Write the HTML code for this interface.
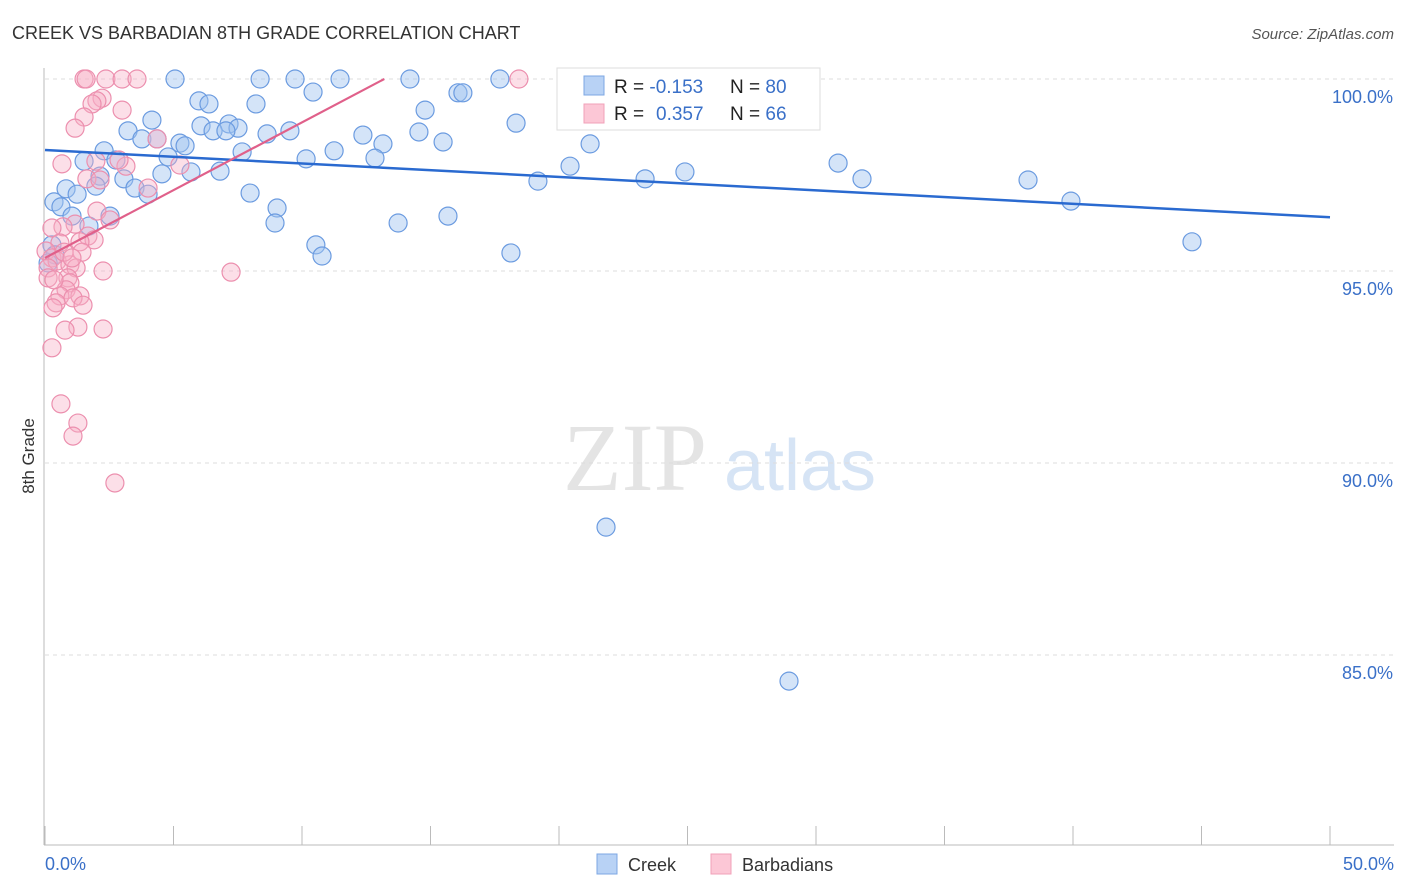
<!DOCTYPE html>
<html><head><meta charset="utf-8"><style>
body{margin:0;background:#fff;font-family:"Liberation Sans",sans-serif}
svg{display:block}
</style></head><body>
<svg width="1406" height="892" viewBox="0 0 1406 892" xmlns="http://www.w3.org/2000/svg">
<text x="12" y="39" font-size="18" fill="#333">CREEK VS BARBADIAN 8TH GRADE CORRELATION CHART</text>
<text x="1394" y="39" font-size="15" fill="#555" text-anchor="end" font-style="italic">Source: ZipAtlas.com</text>
<g>
<text x="635" y="490" font-size="96" font-family="Liberation Serif,serif" fill="#e4e4e4" text-anchor="middle">ZIP</text>
<text x="800" y="490" font-size="72" fill="#d6e4f5" text-anchor="middle">atlas</text>
</g>
<g id="grid"></g>
<g id="axes"></g>
<g id="pts"></g>
<g id="trend"></g>
<text transform="translate(34,456) rotate(-90)" font-size="17" fill="#333" text-anchor="middle">8th Grade</text>
<g>
<rect x="557" y="68" width="263" height="62" fill="#fff" stroke="#ddd"/>
<rect x="584" y="76" width="20" height="19" fill="#b8d2f5" stroke="#7da7e3"/>
<rect x="584" y="104" width="20" height="19" fill="#fcc7d6" stroke="#f1a0b8"/>
<text x="614" y="93" font-size="19" fill="#222">R = <tspan fill="#3a70c8">-0.153</tspan><tspan x="730">N = </tspan><tspan fill="#3a70c8">80</tspan></text>
<text x="614" y="120" font-size="19" fill="#222">R = <tspan fill="#3a70c8" x="656">0.357</tspan><tspan x="730">N = </tspan><tspan fill="#3a70c8">66</tspan></text>
</g>
<g>
<rect x="597" y="854" width="20" height="20" fill="#b8d2f5" stroke="#7da7e3"/>
<text x="628" y="871" font-size="18" fill="#333">Creek</text>
<rect x="711" y="854" width="20" height="20" fill="#fcc7d6" stroke="#f1a0b8"/>
<text x="742" y="871" font-size="18" fill="#333">Barbadians</text>
</g>
</svg>
<script>
const creekX=[5.06,8.37,9.73,11.48,14.2,17.7,22.26,22.88,10.43,16.07,16.26,5.99,6.38,8.21,14.79,4.16,18.33,3.23,6.07,7.16,7.51,6.54,7.04,8.64,9.53,12.37,14.55,3.77,4.36,5.25,5.45,15.49,21.21,13.15,11.25,7.67,2.3,2.76,1.52,4.79,10.16,12.84,20.43,30.86,4.55,5.68,6.81,24.9,23.35,31.79,38.25,19.18,3.07,2.14,0.82,1.98,3.5,4.01,1.25,7.98,0.35,0.62,1.05,2.53,9.03,15.68,8.95,13.74,1.71,39.92,44.63,10.54,10.78,18.13,0.27,0.39,0.12,21.83,28.95,23.93];
const creekY=[100,100,100,100,100,100,100,100,99.66,99.64,99.64,99.43,99.35,99.35,99.19,98.93,98.85,98.65,98.78,98.83,98.72,98.65,98.65,98.57,98.65,98.54,98.62,98.44,98.44,98.33,98.26,98.36,98.31,98.31,98.13,98.1,98.13,97.89,97.86,97.97,97.92,97.94,97.73,97.81,97.53,97.58,97.6,97.58,97.4,97.4,97.37,97.34,97.4,97.47,97.14,97.21,97.16,97.0,97.0,97.03,96.8,96.67,96.43,96.43,96.64,96.43,96.25,96.25,96.17,96.82,95.76,95.68,95.39,95.47,95.68,95.42,95.21,88.33,84.32,98.98];
const barbX=[1.52,1.6,2.37,3.0,3.58,18.44,2.22,2.02,1.83,3.0,1.52,1.17,4.36,0.66,3.15,1.98,2.88,4.01,1.63,2.14,5.25,2.02,1.17,0.7,0.27,1.67,1.91,1.36,0.58,1.44,0.04,0.27,0.47,0.97,1.21,2.26,7.24,0.12,0.89,0.97,0.82,1.36,0.58,1.09,0.43,0.31,1.48,2.26,1.28,0.78,0.27,0.62,1.28,1.09,2.72,0.12,0.35,2.53,0.74,1.05];
const barbY=[100,100,100,100,100,100,99.5,99.43,99.35,99.19,99.01,98.72,98.44,97.79,97.73,97.86,97.89,97.16,97.4,97.37,97.76,96.56,96.22,96.15,96.12,95.91,95.81,95.76,95.73,95.49,95.52,95.34,95.26,95.16,95.08,95.0,94.97,95.08,94.82,94.69,94.51,94.35,94.35,94.3,94.17,94.04,94.11,93.49,93.54,93.46,93.0,91.54,91.04,90.7,89.48,94.82,94.77,96.33,95.49,95.34];
const creekTrendX=[0,50], creekTrendY=[98.15,96.4];
const barbTrendX=[0,13.2], barbTrendY=[95.34,100];
const yTicks=[100,95,90,85];
const yTickLabels=["100.0%","95.0%","90.0%","85.0%"];
const xTicks=[0,5,10,15,20,25,30,35,40,45,50];
const NS="http://www.w3.org/2000/svg";
const sx=v=>45+v*25.7, sy=v=>79+(100-v)*38.4;
function mk(t,a,p){const e=document.createElementNS(NS,t);for(const k in a)e.setAttribute(k,a[k]);p.appendChild(e);return e;}
const grid=document.getElementById('grid'),axes=document.getElementById('axes'),pts=document.getElementById('pts'),trend=document.getElementById('trend');
yTicks.forEach((v,i)=>{
 const l=mk('line',{x1:45,x2:1394,y1:sy(v),y2:sy(v),stroke:'#ddd','stroke-dasharray':'4,4'},grid);
 
 
 const t=mk('text',{x:1393,y:sy(v)+24,'font-size':18,fill:'#3a70c8','text-anchor':'end'},axes);
 t.textContent=yTickLabels[i];
 
 
});
mk('line',{x1:44,x2:44,y1:68,y2:845,stroke:'#bbb'},axes);
mk('line',{x1:44,x2:1394,y1:845,y2:845,stroke:'#bbb'},axes);
xTicks.forEach(v=>{const l=mk('line',{x1:sx(v),x2:sx(v),y1:826,y2:845,stroke:'#bbb'},axes);
 
 });
const xl=mk('text',{x:45,y:870,'font-size':18,fill:'#3a70c8'},axes);xl.textContent='0.0%';


const xr=mk('text',{x:1394,y:870,'font-size':18,fill:'#3a70c8','text-anchor':'end'},axes);xr.textContent='50.0%';


creekX.forEach((x,i)=>{const c=mk('circle',{cx:sx(x),cy:sy(creekY[i]),r:9,fill:'rgba(160,195,240,0.45)',stroke:'#6b9be0','stroke-width':1.2},pts);
 
 });
barbX.forEach((x,i)=>{const c=mk('circle',{cx:sx(x),cy:sy(barbY[i]),r:9,fill:'rgba(248,175,198,0.4)',stroke:'#ec8fae','stroke-width':1.2},pts);
 
 });
const t1=mk('line',{x1:sx(creekTrendX[0]),y1:sy(creekTrendY[0]),x2:sx(creekTrendX[1]),y2:sy(creekTrendY[1]),stroke:'#2a6ad0','stroke-width':2.5},trend);


const t2=mk('line',{x1:sx(barbTrendX[0]),y1:sy(barbTrendY[0]),x2:sx(barbTrendX[1]),y2:sy(barbTrendY[1]),stroke:'#e0608a','stroke-width':2.2},trend);


</script>
</body></html>
